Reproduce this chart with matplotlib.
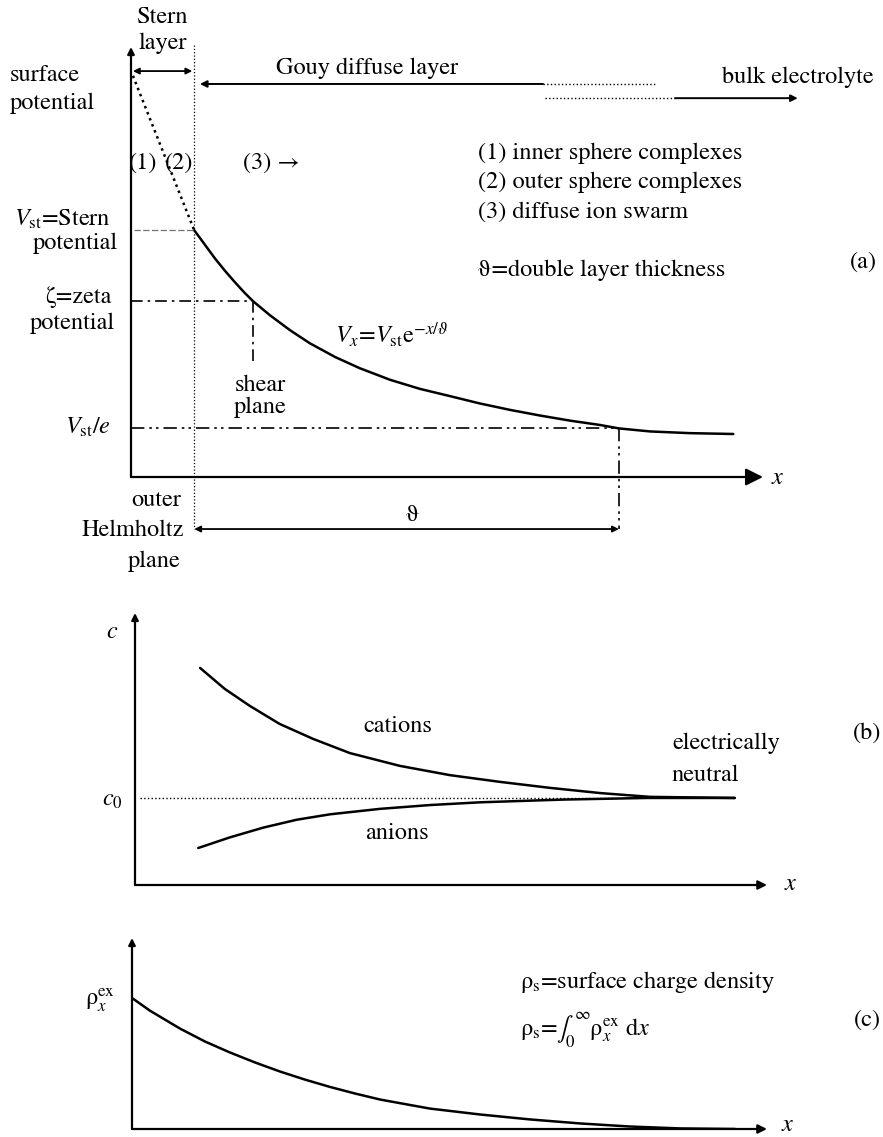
import matplotlib
matplotlib.use('Agg')
import matplotlib.pyplot as plt

plt.rcParams['font.family'] = ['STIXGeneral', 'Liberation Serif', 'DejaVu Serif']
plt.rcParams['mathtext.fontset'] = 'stix'

W, H = 883, 1137
FS = 17.5

# panel (a): potential vs distance (arbitrary units, axes run 0..10)
a_x = [1.00, 1.17, 1.33, 1.49, 1.65, 1.80, 1.93, 2.20, 2.52, 2.83, 3.23, 3.62, 4.10,
       4.57, 5.05, 5.52, 6.00, 6.47, 6.95, 7.42, 7.72, 8.21, 8.84, 9.53]
a_v = [5.74, 5.40, 5.08, 4.79, 4.52, 4.28, 4.09, 3.76, 3.41, 3.11, 2.79, 2.53, 2.26,
       2.05, 1.88, 1.71, 1.56, 1.43, 1.31, 1.21, 1.13, 1.06, 1.02, 1.00]
x_ohp = 1.0
x_shear = 1.93
x_theta = 7.72
v_surface = 9.33
v_stern = 5.74
v_zeta = 4.09
v_e = 1.13
v_shear_end = 2.60

# panel (b): ion concentrations
b_cat_x = [1.03, 1.42, 1.82, 2.29, 2.82, 3.40, 4.19, 4.98, 5.78, 6.57, 7.36, 8.15, 9.49]
b_cat = [7.98, 7.21, 6.58, 5.92, 5.37, 4.85, 4.38, 4.04, 3.79, 3.57, 3.38, 3.24, 3.20]
b_an_x = [1.00, 1.50, 2.03, 2.56, 3.09, 3.88, 4.67, 5.46, 6.77, 8.10, 9.49]
b_an = [1.36, 1.75, 2.11, 2.40, 2.60, 2.80, 2.94, 3.04, 3.14, 3.20, 3.20]
c0 = 3.2
c0_dotted_end = 7.56

# panel (c): excess charge density
c_x = [0.0, 0.28, 0.76, 1.15, 1.54, 1.94, 2.33, 2.72, 3.12, 3.51, 3.91, 4.69,
       5.48, 6.27, 7.06, 7.84, 8.63, 9.50]
c_rho = [6.86, 6.20, 5.25, 4.58, 4.01, 3.48, 3.01, 2.59, 2.20, 1.86, 1.54, 1.07,
         0.76, 0.50, 0.29, 0.13, 0.03, 0.0]

fig = plt.figure(figsize=(W / 100, H / 100), dpi=100)


def panel(left, top, right, bottom):
    ax = fig.add_axes([left / W, 1 - bottom / H, (right - left) / W, (bottom - top) / H])
    ax.set_xlim(0, 10)
    ax.set_ylim(0, 10)
    ax.axis('off')
    return ax


def arrow(ax, start, end, style='-|>', lw=1.6, ms=14, ls='-'):
    ax.annotate('', xy=end, xytext=start, annotation_clip=False,
                arrowprops=dict(arrowstyle=style, lw=lw, color='k', mutation_scale=ms,
                                shrinkA=0, shrinkB=0, linestyle=ls))


def label(x, y, s, ha='center', size=FS, **kw):
    fig.text(x / W, 1 - y / H, s, ha=ha, va='center', fontsize=size, **kw)


def axes_arrows(ax, xhead=14, yhead=12):
    arrow(ax, (0, 0), (10, 0), ms=xhead)
    arrow(ax, (0, 0), (0, 10), ms=yhead)


dashdot = (0, (7, 3, 1.5, 3))
dashdotdot = (0, (8, 3, 1.5, 2.5, 1.5, 3))
curve = dict(color='k', lw=1.8, solid_joinstyle='round', solid_capstyle='round')

# ---------------- (a)
ax = panel(131, 47, 763, 477)
arrow(ax, (0, 0), (10, 0), ms=26, lw=1.6)
arrow(ax, (0, 0), (0, 10), ms=10, lw=1.6)
ax.plot(a_x, a_v, clip_on=False, **curve)
ax.plot([x_ohp, x_ohp], [10.05, -1.21], color='k', lw=0.9, ls=':', clip_on=False)
ax.plot([0.03, x_ohp], [v_surface, v_stern], color='k', lw=1.8, ls=(0, (1, 1.6)), clip_on=False)
ax.plot([0.05, x_ohp], [v_stern, v_stern], color='0.45', lw=0.9, ls=(0, (5, 2)))
ax.plot([0, x_shear], [v_zeta, v_zeta], color='k', lw=1.2, ls=dashdot)
ax.plot([x_shear, x_shear], [v_zeta, v_shear_end], color='k', lw=1.2, ls=dashdot)
ax.plot([0, x_theta], [v_e, v_e], color='k', lw=1.2, ls=dashdotdot)
ax.plot([x_theta, x_theta], [v_e, -1.21], color='k', lw=1.2, ls=dashdotdot, clip_on=False)
arrow(ax, (0.03, 9.44), (0.97, 9.44), style='<|-|>', lw=1.3, ms=9)
arrow(ax, (6.52, 9.14), (1.09, 9.14), lw=1.4, ms=10)
ax.plot([6.52, 8.29], [9.14, 9.14], color='k', lw=1.0, ls=':')
ax.plot([6.55, 8.61], [8.81, 8.81], color='k', lw=1.0, ls=':')
arrow(ax, (8.61, 8.81), (10.55, 8.81), lw=1.4, ms=10)
arrow(ax, (x_ohp, -1.21), (x_theta, -1.21), style='<|-|>', lw=1.3, ms=9)

label(163, 17, 'Stern')
label(163, 43, 'layer')
label(10, 75, 'surface', ha='left')
label(10, 103, 'potential', ha='left')
label(367, 68, 'Gouy diffuse layer')
label(722, 77, 'bulk electrolyte', ha='left')
label(143, 163, '(1)')
label(179, 163, '(2)')
label(243, 163, '(3) \u2192', ha='left')
label(111, 219, r'$V_{\rm st}$=Stern', ha='right')
label(118, 243, 'potential', ha='right')
label(112, 297, '\u03b6=zeta', ha='right')
label(115, 323, 'potential', ha='right')
label(260, 385, 'shear')
label(260, 407, 'plane')
label(111, 427, r'$V_{\rm st}/e$', ha='right')
label(335, 335, r'$V_x$=$V_{\rm st}$e$^{-x/\vartheta}$', ha='left')
label(478, 153, '(1) inner sphere complexes', ha='left')
label(478, 182, '(2) outer sphere complexes', ha='left')
label(478, 212, '(3) diffuse ion swarm', ha='left')
label(478, 270, '\u03d1=double layer thickness', ha='left')
label(863, 262, '(a)')
label(778, 478, r'$x$')
label(181, 500, 'outer', ha='right')
label(184, 530, 'Helmholtz', ha='right')
label(181, 561, 'plane', ha='right')
label(413, 515, '\u03d1')

# ---------------- (b)
ax = panel(135, 613, 767, 885)
axes_arrows(ax, xhead=13, yhead=10)
ax.plot(b_cat_x, b_cat, **curve)
ax.plot(b_an_x, b_an, **curve)
ax.plot([0.08, c0_dotted_end], [c0, c0], color='k', lw=1.0, ls=':')
label(112, 632, r'$c$')
label(112, 800, r'$c_0$')
label(398, 726, 'cations')
label(397, 833, 'anions')
label(672, 743, 'electrically', ha='left')
label(672, 775, 'neutral', ha='left')
label(867, 733, '(b)')
label(791, 884, r'$x$')

# ---------------- (c)
ax = panel(132, 938, 767, 1129)
axes_arrows(ax, xhead=13, yhead=10)
ax.plot(c_x, c_rho, **curve)
label(100, 1000, '\u03c1$_x^{\\rm ex}$')
label(520, 982, '\u03c1$_{\\rm s}$=surface charge density', ha='left')
label(520, 1030, '\u03c1$_{\\rm s}$=$\\int_0^{\\infty}$\u03c1$_x^{\\rm ex}$ d$x$', ha='left')
label(867, 1020, '(c)')
label(788, 1125, r'$x$')

fig.savefig('out.png', dpi=100, facecolor='white')
